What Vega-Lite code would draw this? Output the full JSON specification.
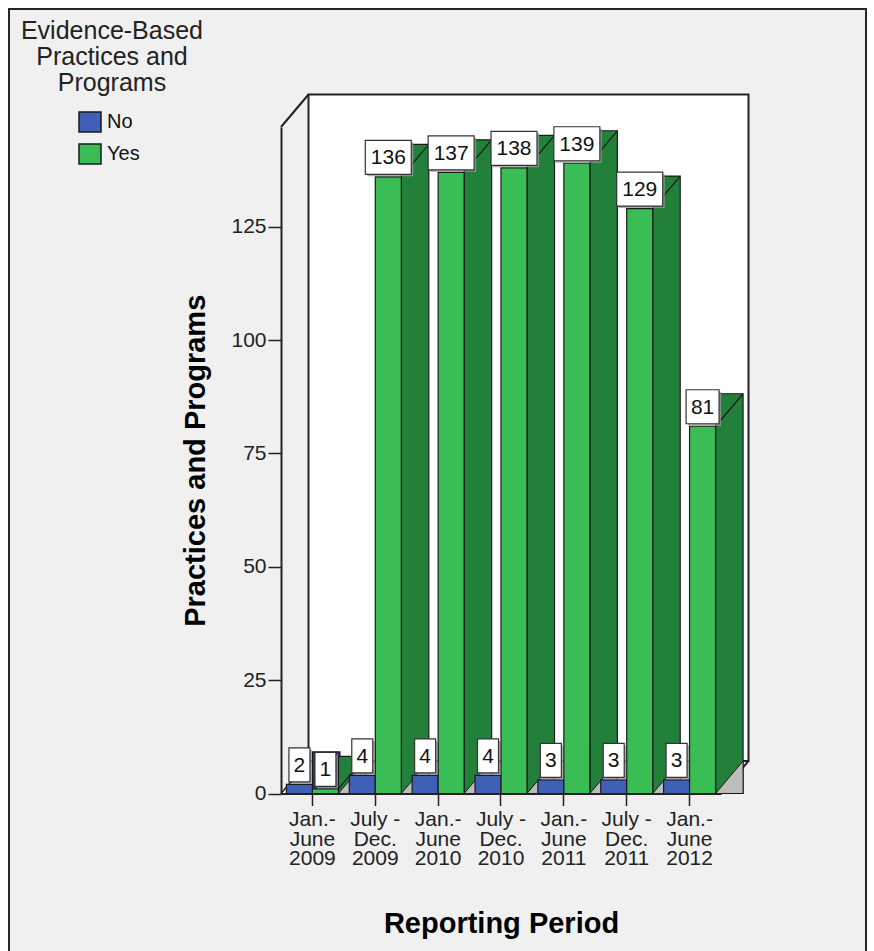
{
  "$schema": "https://vega.github.io/schema/vega-lite/v6.json",
  "width": 440,
  "height": 666.5,
  "autosize": {"type": "none"},
  "padding": {"left": 281, "top": 127, "right": 153, "bottom": 158},
  "background": "#ffffff",
  "config": {
    "font": "Liberation Sans",
    "view": {"stroke": null, "fill": null}
  },
  "datasets": {
    "periods": [
      {"period": "Jan.-\nJune\n2009", "series": "No", "count": 2},
      {"period": "Jan.-\nJune\n2009", "series": "Yes", "count": 1},
      {"period": "July -\nDec.\n2009", "series": "No", "count": 4},
      {"period": "July -\nDec.\n2009", "series": "Yes", "count": 136},
      {"period": "Jan.-\nJune\n2010", "series": "No", "count": 4},
      {"period": "Jan.-\nJune\n2010", "series": "Yes", "count": 137},
      {"period": "July -\nDec.\n2010", "series": "No", "count": 4},
      {"period": "July -\nDec.\n2010", "series": "Yes", "count": 138},
      {"period": "Jan.-\nJune\n2011", "series": "No", "count": 3},
      {"period": "Jan.-\nJune\n2011", "series": "Yes", "count": 139},
      {"period": "July -\nDec.\n2011", "series": "No", "count": 3},
      {"period": "July -\nDec.\n2011", "series": "Yes", "count": 129},
      {"period": "Jan.-\nJune\n2012", "series": "No", "count": 3},
      {"period": "Jan.-\nJune\n2012", "series": "Yes", "count": 81}
    ],
    "frame": [{"part": "chart"}]
  },
  "layer": [
    {
      "data": {"name": "frame"},
      "layer": [
        {
          "mark": {"type": "rect", "fill": "#f0f0f0", "stroke": "#262626", "strokeWidth": 2},
          "encoding": {
            "x": {"datum": "Jan.-\nJune\n2009", "bandPosition": -4.327, "axis": {"zindex": 1, "orient": "bottom", "title": "Reporting Period", "titleFontSize": 29, "titleFontWeight": "bold", "titleColor": "#000000", "titlePadding": 41, "labelExpr": "split(datum.label, '\\n')", "labelAngle": 0, "labelAlign": "center", "labelBaseline": "top", "labelFontSize": 21, "labelLineHeight": 19.5, "labelColor": "#222222", "labelPadding": 3, "tickSize": 12, "tickColor": "#222222", "tickWidth": 1.5, "domainColor": "#222222", "domainWidth": 2, "grid": false}},
            "x2": {"datum": "Jan.-\nJune\n2012", "bandPosition": 3.307},
            "y": {"datum": 173, "axis": {"zindex": 1, "orient": "left", "values": [0, 25, 50, 75, 100, 125], "title": "Practices and Programs", "titleFontSize": 29, "titleFontWeight": "bold", "titleColor": "#000000", "titlePadding": 20, "labelFontSize": 21, "labelColor": "#222222", "labelPadding": 2, "tickSize": 13, "tickColor": "#222222", "tickWidth": 1.5, "domainColor": "#222222", "domainWidth": 2, "grid": false}},
            "y2": {"datum": -35.2}
          }
        },
        {
          "mark": {"type": "text", "fontSize": 25, "lineHeight": 26, "align": "center", "baseline": "top", "color": "#222222"},
          "encoding": {
            "x": {"datum": "Jan.-\nJune\n2009", "bandPosition": -2.689, "axis": {"zindex": 1, "orient": "bottom", "title": "Reporting Period", "titleFontSize": 29, "titleFontWeight": "bold", "titleColor": "#000000", "titlePadding": 41, "labelExpr": "split(datum.label, '\\n')", "labelAngle": 0, "labelAlign": "center", "labelBaseline": "top", "labelFontSize": 21, "labelLineHeight": 19.5, "labelColor": "#222222", "labelPadding": 3, "tickSize": 12, "tickColor": "#222222", "tickWidth": 1.5, "domainColor": "#222222", "domainWidth": 2, "grid": false}},
            "y": {"datum": 170.8, "axis": {"zindex": 1, "orient": "left", "values": [0, 25, 50, 75, 100, 125], "title": "Practices and Programs", "titleFontSize": 29, "titleFontWeight": "bold", "titleColor": "#000000", "titlePadding": 20, "labelFontSize": 21, "labelColor": "#222222", "labelPadding": 2, "tickSize": 13, "tickColor": "#222222", "tickWidth": 1.5, "domainColor": "#222222", "domainWidth": 2, "grid": false}},
            "text": {"value": ["Evidence-Based", "Practices and", "Programs"]}
          }
        },
        {
          "mark": {"type": "rect", "fill": "#ffffff", "stroke": "#222222", "strokeWidth": 2, "xOffset": 27.5, "x2Offset": 27.5, "yOffset": -32.5, "y2Offset": -32.5},
          "encoding": {
            "x": {"datum": "Jan.-\nJune\n2009", "bandPosition": 0, "axis": {"zindex": 1, "orient": "bottom", "title": "Reporting Period", "titleFontSize": 29, "titleFontWeight": "bold", "titleColor": "#000000", "titlePadding": 41, "labelExpr": "split(datum.label, '\\n')", "labelAngle": 0, "labelAlign": "center", "labelBaseline": "top", "labelFontSize": 21, "labelLineHeight": 19.5, "labelColor": "#222222", "labelPadding": 3, "tickSize": 12, "tickColor": "#222222", "tickWidth": 1.5, "domainColor": "#222222", "domainWidth": 2, "grid": false}},
            "x2": {"datum": "Jan.-\nJune\n2012", "bandPosition": 1},
            "y": {"datum": 0, "axis": {"zindex": 1, "orient": "left", "values": [0, 25, 50, 75, 100, 125], "title": "Practices and Programs", "titleFontSize": 29, "titleFontWeight": "bold", "titleColor": "#000000", "titlePadding": 20, "labelFontSize": 21, "labelColor": "#222222", "labelPadding": 2, "tickSize": 13, "tickColor": "#222222", "tickWidth": 1.5, "domainColor": "#222222", "domainWidth": 2, "grid": false}},
            "y2": {"datum": 147}
          }
        },
        {
          "mark": {"type": "rule", "stroke": "#222222", "strokeWidth": 2, "x2Offset": 27.5, "y2Offset": -32.5},
          "encoding": {
            "x": {"datum": "Jan.-\nJune\n2009", "bandPosition": 0, "axis": {"zindex": 1, "orient": "bottom", "title": "Reporting Period", "titleFontSize": 29, "titleFontWeight": "bold", "titleColor": "#000000", "titlePadding": 41, "labelExpr": "split(datum.label, '\\n')", "labelAngle": 0, "labelAlign": "center", "labelBaseline": "top", "labelFontSize": 21, "labelLineHeight": 19.5, "labelColor": "#222222", "labelPadding": 3, "tickSize": 12, "tickColor": "#222222", "tickWidth": 1.5, "domainColor": "#222222", "domainWidth": 2, "grid": false}},
            "x2": {"datum": "Jan.-\nJune\n2009", "bandPosition": 0},
            "y": {"datum": 147, "axis": {"zindex": 1, "orient": "left", "values": [0, 25, 50, 75, 100, 125], "title": "Practices and Programs", "titleFontSize": 29, "titleFontWeight": "bold", "titleColor": "#000000", "titlePadding": 20, "labelFontSize": 21, "labelColor": "#222222", "labelPadding": 2, "tickSize": 13, "tickColor": "#222222", "tickWidth": 1.5, "domainColor": "#222222", "domainWidth": 2, "grid": false}},
            "y2": {"datum": 147}
          }
        },
        {
          "mark": {"type": "rule", "stroke": "#222222", "strokeWidth": 1.5, "x2Offset": 27.5, "y2Offset": -32.5},
          "encoding": {
            "x": {"datum": "Jan.-\nJune\n2009", "bandPosition": 0, "axis": {"zindex": 1, "orient": "bottom", "title": "Reporting Period", "titleFontSize": 29, "titleFontWeight": "bold", "titleColor": "#000000", "titlePadding": 41, "labelExpr": "split(datum.label, '\\n')", "labelAngle": 0, "labelAlign": "center", "labelBaseline": "top", "labelFontSize": 21, "labelLineHeight": 19.5, "labelColor": "#222222", "labelPadding": 3, "tickSize": 12, "tickColor": "#222222", "tickWidth": 1.5, "domainColor": "#222222", "domainWidth": 2, "grid": false}},
            "x2": {"datum": "Jan.-\nJune\n2009", "bandPosition": 0},
            "y": {"datum": 0, "axis": {"zindex": 1, "orient": "left", "values": [0, 25, 50, 75, 100, 125], "title": "Practices and Programs", "titleFontSize": 29, "titleFontWeight": "bold", "titleColor": "#000000", "titlePadding": 20, "labelFontSize": 21, "labelColor": "#222222", "labelPadding": 2, "tickSize": 13, "tickColor": "#222222", "tickWidth": 1.5, "domainColor": "#222222", "domainWidth": 2, "grid": false}},
            "y2": {"datum": 0}
          }
        },
        {
          "mark": {"type": "rule", "stroke": "#222222", "strokeWidth": 2, "x2Offset": 27.5, "y2Offset": -32.5},
          "encoding": {
            "x": {"datum": "Jan.-\nJune\n2012", "bandPosition": 1, "axis": {"zindex": 1, "orient": "bottom", "title": "Reporting Period", "titleFontSize": 29, "titleFontWeight": "bold", "titleColor": "#000000", "titlePadding": 41, "labelExpr": "split(datum.label, '\\n')", "labelAngle": 0, "labelAlign": "center", "labelBaseline": "top", "labelFontSize": 21, "labelLineHeight": 19.5, "labelColor": "#222222", "labelPadding": 3, "tickSize": 12, "tickColor": "#222222", "tickWidth": 1.5, "domainColor": "#222222", "domainWidth": 2, "grid": false}},
            "x2": {"datum": "Jan.-\nJune\n2012", "bandPosition": 1},
            "y": {"datum": 0, "axis": {"zindex": 1, "orient": "left", "values": [0, 25, 50, 75, 100, 125], "title": "Practices and Programs", "titleFontSize": 29, "titleFontWeight": "bold", "titleColor": "#000000", "titlePadding": 20, "labelFontSize": 21, "labelColor": "#222222", "labelPadding": 2, "tickSize": 13, "tickColor": "#222222", "tickWidth": 1.5, "domainColor": "#222222", "domainWidth": 2, "grid": false}},
            "y2": {"datum": 0}
          }
        }
      ]
    },
    {
      "data": {"name": "periods"},
      "encoding": {
        "x": {
          "field": "period",
          "type": "nominal",
          "sort": null,
          "scale": {
            "domain": ["Jan.-\nJune\n2009", "July -\nDec.\n2009", "Jan.-\nJune\n2010", "July -\nDec.\n2010", "Jan.-\nJune\n2011", "July -\nDec.\n2011", "Jan.-\nJune\n2012"],
            "paddingInner": 0,
            "paddingOuter": 0
          },
          "axis": {"zindex": 1, "orient": "bottom", "title": "Reporting Period", "titleFontSize": 29, "titleFontWeight": "bold", "titleColor": "#000000", "titlePadding": 41, "labelExpr": "split(datum.label, '\\n')", "labelAngle": 0, "labelAlign": "center", "labelBaseline": "top", "labelFontSize": 21, "labelLineHeight": 19.5, "labelColor": "#222222", "labelPadding": 3, "tickSize": 12, "tickColor": "#222222", "tickWidth": 1.5, "domainColor": "#222222", "domainWidth": 2, "grid": false}
        },
        "y": {
          "field": "count",
          "type": "quantitative",
          "scale": {"domain": [0, 147], "nice": false, "zero": true},
          "axis": {"zindex": 1, "orient": "left", "values": [0, 25, 50, 75, 100, 125], "title": "Practices and Programs", "titleFontSize": 29, "titleFontWeight": "bold", "titleColor": "#000000", "titlePadding": 20, "labelFontSize": 21, "labelColor": "#222222", "labelPadding": 2, "tickSize": 13, "tickColor": "#222222", "tickWidth": 1.5, "domainColor": "#222222", "domainWidth": 2, "grid": false}
        }
      },
      "layer": [
        {
          "transform": [{"filter": "datum.series === 'No'"}],
          "mark": {"type": "rect", "fill": "#25377e", "stroke": "#1a1a1a", "strokeWidth": 1.2, "xOffset": 0, "x2Offset": 27.5, "yOffset": -32.5, "y2Offset": 0},
          "encoding": {
            "x": {"field": "period", "type": "nominal", "bandPosition": 0.5},
            "x2": {"field": "period", "bandPosition": 0.5},
            "y2": {"datum": 0}
          }
        },
        {
          "transform": [{"filter": "datum.series === 'Yes'"}],
          "mark": {"type": "rect", "fill": "#23803a", "stroke": "#1a1a1a", "strokeWidth": 1.2, "xOffset": 26, "x2Offset": 53.5, "yOffset": -32.5, "y2Offset": 0},
          "encoding": {
            "x": {"field": "period", "type": "nominal", "bandPosition": 0.5},
            "x2": {"field": "period", "bandPosition": 0.5},
            "y2": {"datum": 0}
          }
        },
        {
          "transform": [{"filter": "datum.series === 'Yes'"}],
          "mark": {"type": "point", "shape": "M -0.846 1 L 0.846 1 L 0.846 -1 Z", "size": 1056, "filled": true, "fill": "#bdbdbd", "stroke": "#1a1a1a", "strokeWidth": 1, "opacity": 1, "xOffset": 39.75, "yOffset": -16.25},
          "encoding": {"y": {"datum": 0, "type": "quantitative"}}
        },
        {
          "transform": [{"filter": "datum.series === 'No'"}],
          "mark": {"type": "bar", "width": 26, "xOffset": -13, "stroke": "#1a1a1a", "strokeWidth": 1.2},
          "encoding": {
            "color": {
              "field": "series",
              "type": "nominal",
              "scale": {"domain": ["No", "Yes"], "range": ["#4060b8", "#3bbd55"]},
              "legend": {
                "orient": "none",
                "legendX": -203,
                "legendY": -17,
                "title": null,
                "padding": 0,
                "symbolType": "M -1 -0.91 L 1 -0.91 L 1 0.91 L -1 0.91 Z",
                "symbolSize": 484,
                "symbolStrokeColor": "#222222",
                "symbolStrokeWidth": 1.5,
                "symbolOpacity": 1,
                "labelFontSize": 20,
                "labelColor": "#111111",
                "labelOffset": 5,
                "rowPadding": 4
              }
            }
          }
        },
        {
          "transform": [{"filter": "datum.series === 'Yes'"}],
          "mark": {"type": "bar", "width": 26, "xOffset": 13, "stroke": "#1a1a1a", "strokeWidth": 1.2},
          "encoding": {"color": {"field": "series", "type": "nominal"}}
        },
        {
          "transform": [{"filter": "datum.series === 'Yes'"}],
          "mark": {"type": "rule", "stroke": "#1a1a1a", "strokeWidth": 1.2, "xOffset": 26, "x2Offset": 53.5, "y2Offset": -32.5},
          "encoding": {"x2": {"field": "period"}, "y2": {"field": "count"}}
        },
        {
          "transform": [{"filter": "datum.series === 'No'"}],
          "mark": {"type": "point", "shape": "M -0.618 -1 L 0.618 -1 L 0.618 1 L -0.618 1 Z", "size": 1156, "filled": true, "fill": "#9a9a9a", "stroke": null, "opacity": 0.8, "xOffset": -11, "yOffset": -17.5}
        },
        {
          "transform": [{"filter": "datum.series === 'Yes'"}],
          "mark": {"type": "point", "size": 1156, "filled": true, "fill": "#9a9a9a", "stroke": null, "opacity": 0.8, "xOffset": 15, "yOffset": -17.5},
          "encoding": {
            "shape": {
              "condition": [
                {"test": "datum.count >= 100", "value": "M -1.353 -1 L 1.353 -1 L 1.353 1 L -1.353 1 Z"},
                {"test": "datum.count >= 10", "value": "M -0.97 -1 L 0.97 -1 L 0.97 1 L -0.97 1 Z"}
              ],
              "value": "M -0.618 -1 L 0.618 -1 L 0.618 1 L -0.618 1 Z"
            }
          }
        },
        {
          "transform": [{"filter": "datum.series === 'No'"}],
          "mark": {"type": "point", "shape": "M -0.618 -1 L 0.618 -1 L 0.618 1 L -0.618 1 Z", "size": 1156, "filled": true, "fill": "#ffffff", "stroke": "#333333", "strokeWidth": 1.2, "opacity": 1, "xOffset": -13, "yOffset": -19.5}
        },
        {
          "transform": [{"filter": "datum.series === 'Yes'"}],
          "mark": {"type": "point", "size": 1156, "filled": true, "fill": "#ffffff", "stroke": "#333333", "strokeWidth": 1.2, "opacity": 1, "xOffset": 13, "yOffset": -19.5},
          "encoding": {
            "shape": {
              "condition": [
                {"test": "datum.count >= 100", "value": "M -1.353 -1 L 1.353 -1 L 1.353 1 L -1.353 1 Z"},
                {"test": "datum.count >= 10", "value": "M -0.97 -1 L 0.97 -1 L 0.97 1 L -0.97 1 Z"}
              ],
              "value": "M -0.618 -1 L 0.618 -1 L 0.618 1 L -0.618 1 Z"
            }
          }
        },
        {
          "transform": [{"filter": "datum.series === 'No'"}],
          "mark": {"type": "text", "fontSize": 21, "align": "center", "baseline": "middle", "color": "#111111", "xOffset": -13, "yOffset": -18.5},
          "encoding": {"text": {"field": "count", "type": "quantitative"}}
        },
        {
          "transform": [{"filter": "datum.series === 'Yes'"}],
          "mark": {"type": "text", "fontSize": 21, "align": "center", "baseline": "middle", "color": "#111111", "xOffset": 13, "yOffset": -18.5},
          "encoding": {"text": {"field": "count", "type": "quantitative"}}
        }
      ]
    }
  ]
}
